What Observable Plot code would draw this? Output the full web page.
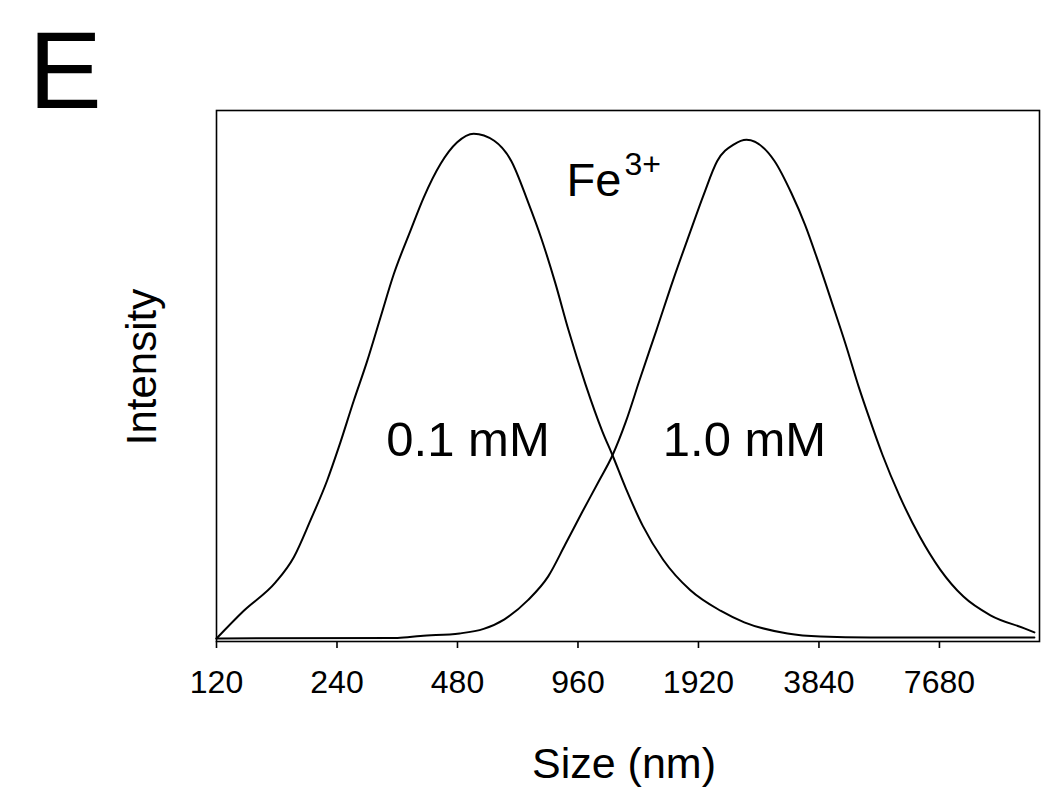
<!DOCTYPE html>
<html>
<head>
<meta charset="utf-8">
<script src="https://cdn.jsdelivr.net/npm/d3@7"></script>
<script src="https://cdn.jsdelivr.net/npm/@observablehq/plot@0.6"></script>
<style>
  html, body { margin: 0; padding: 0; background: #fff; }
</style>
</head>
<body>
<div id="chart"></div>
<script>
// Size (nm) and intensity for 0.1 mM Fe3+
const sizes1 = [120, 140.4, 168.5, 187.2, 206, 226.8, 242.5, 264.3, 285.6, 308.2, 332.8, 366.3, 395.4, 435.3, 479.2, 527, 593, 654, 720, 778, 842, 909, 1002, 1105, 1171, 1265, 1394, 1567, 1830, 2179, 2499, 3204, 3873, 5164, 13262];
const int1   = [0, 5.5, 11.1, 16.1, 23.4, 31.3, 37.9, 47.1, 55.0, 63.6, 72.2, 80.8, 87.4, 94.0, 98.3, 100, 98.6, 94.6, 86.5, 79.2, 70.5, 61.1, 50.4, 41.0, 36.3, 29.7, 22.3, 15.6, 9.6, 5.5, 3.2, 1.0, 0.4, 0.2, 0.2];
// Size (nm) and intensity for 1.0 mM Fe3+
const sizes2 = [120, 340, 388, 486, 558, 629, 720, 809, 892, 983, 1083, 1171, 1265, 1367, 1508, 1661, 1830, 1978, 2139, 2356, 2531, 2973, 3278, 3543, 3829, 4139, 4472, 4834, 5123, 5533, 6101, 6846, 7706, 8816, 10298, 12518, 13262];
const int2   = [0, 0.1, 0.5, 1.0, 1.9, 3.8, 7.6, 12.3, 18.6, 25.0, 31.2, 36.3, 43.0, 51.1, 61.1, 71.1, 80.5, 87.9, 94.6, 97.9, 98.8, 94.6, 88.2, 82.0, 74.5, 66.5, 58.4, 49.7, 43.8, 36.4, 28.3, 20.3, 13.7, 8.3, 4.6, 2.0, 1.2];
// Axis ticks
const xTicks = [120, 240, 480, 960, 1920, 3840, 7680];
const xDomain = [120, 13656];
// Annotations
const seriesLabels = ["0.1 mM", "1.0 mM"];
const seriesLabelSize = [510, 2502];
const seriesLabelIntensity = [39.2, 39.2];
const ionMain = "Fe";
const ionSup = "3+";
const panelLetter = "E";
const xLabel = "Size (nm)";
const yLabel = "Intensity";

const curve1 = sizes1.map((s, i) => ({size: s, intensity: int1[i]}));
const curve2 = sizes2.map((s, i) => ({size: s, intensity: int2[i]}));
const labelData = seriesLabels.map((t, i) => ({text: t, size: seriesLabelSize[i], intensity: seriesLabelIntensity[i]}));

const font = "'Liberation Sans', Arial, Helvetica, sans-serif";

const chart = Plot.plot({
  width: 1050,
  height: 788,
  marginTop: 110,
  marginLeft: 216,
  marginRight: 11,
  marginBottom: 147,
  style: {fontFamily: font, fontSize: "32px", color: "black", background: "white"},
  x: {type: "log", base: 2, domain: xDomain},
  y: {domain: [-0.6, 104.6], axis: null},
  marks: [
    Plot.frame({stroke: "black", strokeWidth: 1.6}),
    Plot.axisX(xTicks, {tickSize: 7, tickPadding: 22, tickFormat: d => String(d), label: null, fontSize: 32, strokeWidth: 1.6}),
    Plot.line(curve2, {x: "size", y: "intensity", stroke: "black", strokeWidth: 2, curve: "monotone-x"}),
    Plot.line(curve1, {x: "size", y: "intensity", stroke: "black", strokeWidth: 2, curve: "monotone-x"}),
    Plot.text(labelData, {x: "size", y: "intensity", text: "text", fontSize: 49, textAnchor: "middle", lineAnchor: "middle", fill: "black"}),
    Plot.text([ionMain], {x: [899], y: [87.7], text: d => d, fontSize: 47, textAnchor: "start", lineAnchor: "bottom", fill: "black"}),
    Plot.text([ionSup], {x: [1254], y: [91.9], text: d => d, fontSize: 32, textAnchor: "start", lineAnchor: "bottom", fill: "black"}),
    Plot.text([panelLetter], {frameAnchor: "top-left", text: d => d, dx: -188, dy: -3, fontSize: 110, textAnchor: "start", lineAnchor: "bottom", fill: "black"}),
    Plot.text([xLabel], {frameAnchor: "bottom", text: d => d, dx: -4, dy: 136, fontSize: 43, textAnchor: "middle", lineAnchor: "bottom", fill: "black"}),
    Plot.text([yLabel], {frameAnchor: "left", text: d => d, dx: -74, dy: -9, rotate: -90, fontSize: 42, textAnchor: "middle", lineAnchor: "middle", fill: "black"})
  ]
});
document.getElementById("chart").appendChild(chart);
</script>
</body>
</html>
